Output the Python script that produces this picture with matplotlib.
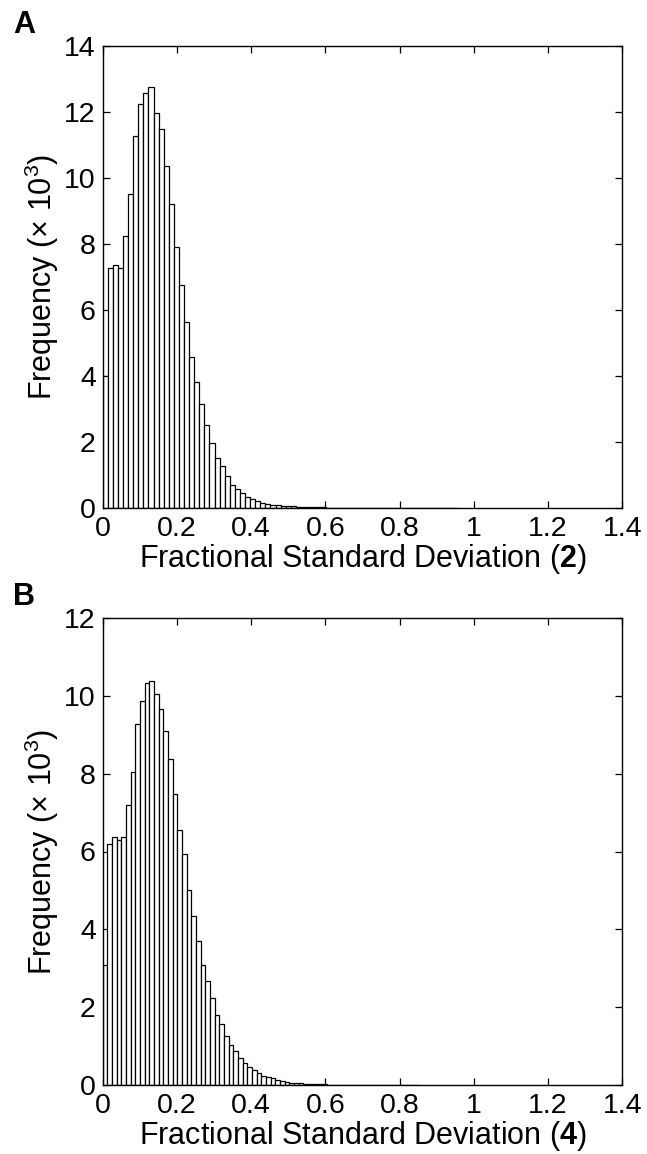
import matplotlib
matplotlib.use("Agg")
import matplotlib.pyplot as plt
import numpy as np

plt.rcParams['font.family'] = ['Liberation Sans', 'DejaVu Sans']
plt.rcParams['mathtext.fontset'] = 'custom'
plt.rcParams['mathtext.rm'] = 'Liberation Sans'
plt.rcParams['mathtext.bf'] = 'Liberation Sans:bold'
plt.rcParams['mathtext.it'] = 'Liberation Sans:italic'

# ---- data (frequency in thousands), 100 equal bins starting at 0 ----
bin_width_a = 0.0137
freq_a = [4.0, 7.26, 7.35, 7.26, 8.25, 9.52, 11.28, 12.23, 12.59, 12.76,
          11.98, 11.49, 10.35, 9.20, 7.90, 6.77, 5.63, 4.58, 3.82, 3.14,
          2.53, 1.97, 1.53, 1.27, 0.97, 0.71, 0.57, 0.44, 0.34, 0.26,
          0.20, 0.15, 0.12, 0.10, 0.08, 0.07, 0.06, 0.05, 0.04, 0.035,
          0.03, 0.025, 0.02, 0.02, 0.015, 0.015, 0.012, 0.01, 0.01, 0.008,
          0.008, 0.007, 0.006, 0.006, 0.005, 0.005, 0.004, 0.004, 0.003, 0.003,
          0.003, 0.003, 0.002, 0.002, 0.002, 0.002, 0.002, 0.001, 0.001, 0.001]

bin_width_b = 0.01258
freq_b = [3.08, 6.20, 6.38, 6.29, 6.36, 7.20, 8.03, 9.28, 9.86, 10.33,
          10.38, 10.05, 9.65, 9.09, 8.37, 7.47, 6.55, 5.94, 5.02, 4.34,
          3.69, 3.08, 2.67, 2.23, 1.81, 1.56, 1.25, 1.03, 0.88, 0.70,
          0.56, 0.47, 0.39, 0.32, 0.24, 0.21, 0.17, 0.13, 0.10, 0.08,
          0.06, 0.05, 0.04, 0.03, 0.03, 0.02, 0.02, 0.015, 0.012, 0.01,
          0.01, 0.008, 0.007, 0.006, 0.005, 0.005, 0.004, 0.004, 0.003, 0.003,
          0.003, 0.002, 0.002, 0.002, 0.002, 0.001, 0.001, 0.001]

x_ticks = [0, 0.2, 0.4, 0.6, 0.8, 1.0, 1.2, 1.4]
x_ticklabels = ['0', '0.2', '0.4', '0.6', '0.8', '1', '1.2', '1.4']
y_ticks_a = [0, 2, 4, 6, 8, 10, 12, 14]
y_ticks_b = [0, 2, 4, 6, 8, 10, 12]

xlabel_a = r'Fractional Standard Deviation ($\mathbf{2}$)'
xlabel_b = r'Fractional Standard Deviation ($\mathbf{4}$)'
ylabel = r'Frequency ($\times$ 10$^{3}$)'

FS = 20.5
LFS = 22.0

fig = plt.figure(figsize=(6.47, 11.54), dpi=100)
W, H = 647, 1154

def make_ax(left, right, top, bottom):
    return fig.add_axes([left / W, 1 - bottom / H, (right - left) / W, (bottom - top) / H])

ax_a = make_ax(102.7, 622.3, 46, 508)
ax_b = make_ax(102.7, 622.3, 618, 1085)

def draw(ax, freq, bw, yticks, xlabel, letter, top_px):
    edges = np.arange(len(freq)) * bw
    ax.bar(edges, freq, width=bw, align='edge', color='white',
           edgecolor='black', linewidth=0.9, zorder=2)
    ax.set_xlim(0, 1.4)
    ax.set_ylim(yticks[0], yticks[-1])
    ax.set_xticks(x_ticks)
    ax.set_xticklabels(x_ticklabels)
    ax.set_yticks(yticks)
    ax.set_yticklabels([str(t) for t in yticks])
    ax.tick_params(direction='in', length=5, width=0.9, labelsize=FS,
                   top=True, right=True, pad=5.5)
    ax.tick_params(axis='y', pad=5)
    for s in ax.spines.values():
        s.set_linewidth(1.0)
        s.set_zorder(3)
    ax.set_xlabel(xlabel, fontsize=LFS, labelpad=0)
    ax.set_ylabel(ylabel, fontsize=LFS, labelpad=2)
    fig.text(13 / W, 1 - top_px / H, letter, fontsize=22,
             fontweight='bold', ha='left', va='top')

draw(ax_a, freq_a, bin_width_a, y_ticks_a, xlabel_a, 'A', 10)
draw(ax_b, freq_b, bin_width_b, y_ticks_b, xlabel_b, 'B', 582)

fig.savefig('out.png', dpi=100)
